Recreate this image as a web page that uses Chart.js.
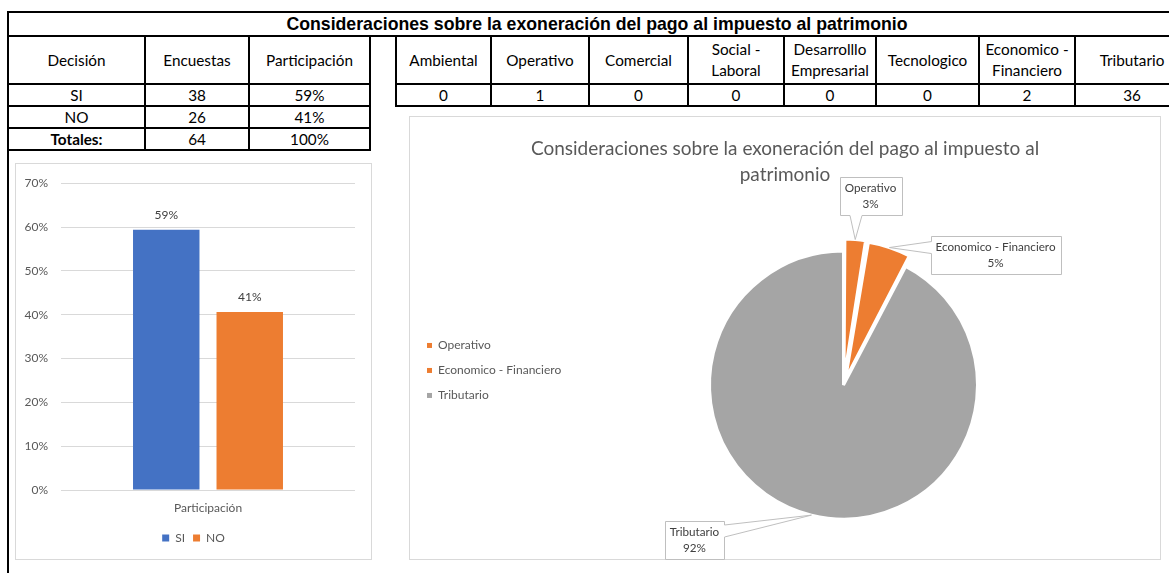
<!DOCTYPE html>
<html>
<head>
<meta charset="utf-8">
<script src="https://cdn.jsdelivr.net/npm/chart.js@4.4.1/dist/chart.umd.min.js"></script>
<style>
  html, body { margin: 0; padding: 0; background: #fff; }
  body { width: 1169px; height: 573px; overflow: hidden; position: relative; font-family: Lato, 'Noto Sans', sans-serif; }
  .abs { position: absolute; }
  .cell { position: absolute; box-sizing: border-box; border: 2px solid #000; display: flex; align-items: center;
          justify-content: center; text-align: center; font-size: 15.3px; line-height: 21px; white-space: pre-line; color: #000; }
  .panel { position: absolute; box-sizing: border-box; border: 1px solid #d9d9d9; }
</style>
</head>
<body>
<div class="abs" style="left:7px;top:11px;width:2px;height:562px;background:#000"></div>
<div id="mainTitle" class="cell" style="left:7px;top:11px;width:1180px;height:26px;font-family:'Liberation Sans',Arial,sans-serif;font-weight:bold;font-size:17.7px;"></div>
<div id="tables"></div>
<div class="panel" style="left:15px;top:163px;width:357px;height:397px"></div>
<canvas id="bar" class="abs" width="357" height="397" style="left:15px;top:163px;width:357px;height:397px"></canvas>
<div class="panel" style="left:409px;top:116px;width:752px;height:444px"></div>
<canvas id="pie" class="abs" width="752" height="450" style="left:409px;top:116px;width:752px;height:450px"></canvas>
<script>
// ---------------- DATA ----------------
const mainTitle = 'Consideraciones sobre la exoneración del pago al impuesto al patrimonio';
const decisionHeaders = ['Decisión', 'Encuestas', 'Participación'];
const decisiones = ['SI', 'NO'];
const encuestas = [38, 26];
const participacion = [59.4, 40.6];          // percent
const totalLabel = 'Totales:';
const factores = ['Ambiental', 'Operativo', 'Comercial', 'Social -\nLaboral', 'Desarrolllo\nEmpresarial',
                  'Tecnologico', 'Economico -\nFinanciero', 'Tributario'];
const respuestas = [0, 1, 0, 0, 0, 0, 2, 36];
const barCategories = ['Participación'];
const yTickValues = [0, 10, 20, 30, 40, 50, 60, 70];
const pieTitle = ['Consideraciones sobre la exoneración del pago al impuesto al', 'patrimonio'];

// ---------------- STYLE ----------------
const FONT = "Lato, 'Noto Sans', sans-serif";
const barColors = ['#4472C4', '#ED7D31'];
const pieColorFor = { 'Tributario': '#A5A5A5' };
const pieDefaultColor = '#ED7D31';

// ---------------- TABLES ----------------
document.getElementById('mainTitle').textContent = mainTitle;
const host = document.getElementById('tables');
function cell(x0, x1, y0, y1, text, bold) {
  const d = document.createElement('div');
  d.className = 'cell';
  d.style.left = (x0 - 1) + 'px';
  d.style.top = (y0 - 1) + 'px';
  d.style.width = (x1 - x0 + 2) + 'px';
  d.style.height = (y1 - y0 + 2) + 'px';
  if (bold) d.style.fontWeight = 'bold';
  d.textContent = text;
  host.appendChild(d);
}
const fmtPct = v => Math.round(v) + '%';
const lx = [8, 145, 249, 370];
const ly = [36, 84, 106, 128, 150];
decisionHeaders.forEach((h, c) => cell(lx[c], lx[c + 1], ly[0], ly[1], h));
decisiones.forEach((d, r) => {
  cell(lx[0], lx[1], ly[r + 1], ly[r + 2], d);
  cell(lx[1], lx[2], ly[r + 1], ly[r + 2], String(encuestas[r]));
  cell(lx[2], lx[3], ly[r + 1], ly[r + 2], fmtPct(participacion[r]));
});
const totEnc = encuestas.reduce((a, b) => a + b, 0);
const totPart = participacion.reduce((a, b) => a + b, 0);
cell(lx[0], lx[1], ly[3], ly[4], totalLabel, true);
cell(lx[1], lx[2], ly[3], ly[4], String(totEnc));
cell(lx[2], lx[3], ly[3], ly[4], fmtPct(totPart));
const rx = [396, 491, 589, 688, 784, 876, 979, 1075, 1189];
const ry = [36, 84, 106];
factores.forEach((f, c) => {
  cell(rx[c], rx[c + 1], ry[0], ry[1], f);
  cell(rx[c], rx[c + 1], ry[1], ry[2], String(respuestas[c]));
});

// ---------------- SHARED PLUGINS ----------------
// empty layout box that reserves space on one side of the chart area
const spacerPlugin = {
  id: 'spacer',
  beforeInit(chart, args, opts) {
    if (!opts || !opts.size) return;
    const box = {
      position: opts.position || 'right', weight: 100, fullSize: false, options: {},
      left: 0, top: 0, right: 0, bottom: 0, width: 0, height: 0,
      isHorizontal() { return this.position === 'top' || this.position === 'bottom'; },
      update(maxWidth, maxHeight) {
        if (this.isHorizontal()) { this.width = maxWidth; this.height = opts.size; }
        else { this.width = opts.size; this.height = maxHeight; }
      },
      draw() {}
    };
    Chart.layouts.addBox(chart, box);
  }
};

// ---------------- BAR CHART ----------------
const barLabelPlugin = {
  id: 'barLabels',
  afterDatasetsDraw(chart) {
    const ctx = chart.ctx;
    ctx.save();
    ctx.font = '12px ' + FONT;
    ctx.fillStyle = '#404040';
    ctx.textAlign = 'center';
    ctx.textBaseline = 'middle';
    chart.data.datasets.forEach((ds, di) => {
      chart.getDatasetMeta(di).data.forEach((bar, j) => {
        ctx.fillText(fmtPct(ds.data[j]), bar.x, bar.y - 15);
      });
    });
    ctx.restore();
  }
};

new Chart(document.getElementById('bar'), {
  type: 'bar',
  data: {
    labels: barCategories,
    datasets: decisiones.map((d, i) => ({
      label: d,
      data: [participacion[i]],
      backgroundColor: barColors[i],
      categoryPercentage: 0.568,
      barPercentage: 0.796
    }))
  },
  options: {
    responsive: false, animation: false, devicePixelRatio: 1,
    layout: { padding: { left: 0, right: 0, top: 17, bottom: 6 } },
    scales: {
      x: {
        grid: { display: false, drawTicks: false },
        border: { display: false },
        ticks: { padding: 11, color: '#595959', font: { family: FONT, size: 12 } },
        afterFit: s => { s.height = 34; }
      },
      y: {
        min: yTickValues[0], max: yTickValues[yTickValues.length - 1],
        ticks: { stepSize: yTickValues[1] - yTickValues[0], padding: 13, color: '#595959',
                 font: { family: FONT, size: 12 }, callback: v => v + '%' },
        grid: { color: '#d9d9d9', drawTicks: false },
        border: { display: false },
        afterFit: s => { s.width = 46; }
      }
    },
    plugins: {
      legend: { position: 'bottom',
        labels: { boxWidth: 7, boxHeight: 7, padding: 8, color: '#595959', font: { family: FONT, size: 12 } } },
      tooltip: { enabled: false },
      spacer: { position: 'right', size: 17 }
    }
  },
  plugins: [spacerPlugin, barLabelPlugin]
});

// ---------------- PIE CHART ----------------
const pieLabels = factores.filter((_, i) => respuestas[i] > 0).map(s => s.replace('\n', ' '));
const pieValues = respuestas.filter(v => v > 0);
const pieColors = pieLabels.map(l => pieColorFor[l] || pieDefaultColor);
const pieOffsets = pieLabels.map(l => pieColorFor[l] ? 0 : 26);

const calloutPlugin = {
  id: 'callouts',
  afterDatasetsDraw(chart, args, opts) {
    const ctx = chart.ctx;
    const meta = chart.getDatasetMeta(0);
    const ds = chart.data.datasets[0];
    const total = ds.data.reduce((a, b) => a + b, 0);
    ctx.save();
    ctx.font = opts.fontSize + 'px ' + FONT;
    meta.data.forEach((arc, i) => {
      const p = arc.getProps(['x', 'y', 'startAngle', 'endAngle', 'outerRadius', 'circumference'], true);
      const mid = (p.startAngle + p.endAngle) / 2;
      const off = (arc.options.offset || 0) / 4;
      const disp = off * (2 - Math.sin(Math.min(Math.PI, p.circumference)));
      const r = p.outerRadius + disp;
      const ax = p.x + Math.cos(mid) * r, ay = p.y + Math.sin(mid) * r;
      const pos = opts.positions[i];
      const cx = p.x + pos[0], cy = p.y + pos[1];
      const lines = [chart.data.labels[i], Math.round(ds.data[i] / total * 100) + '%'];
      const w = Math.round(Math.max(...lines.map(t => ctx.measureText(t).width)) + 2 * opts.padX);
      const h = lines.length * opts.lineH + 2 * opts.padY;
      const L = Math.round(cx - w / 2) + 0.5, T = Math.round(cy - h / 2) + 0.5;
      const R = L + w, B = T + h;
      const dx = ax - cx, dy = ay - cy, half = 6;
      ctx.beginPath();
      ctx.moveTo(L, T);
      if (Math.abs(dx) * h > Math.abs(dy) * w) {
        const e = Math.min(Math.max(ay, T + h * 0.25), B - h * 0.25);
        ctx.lineTo(R, T);
        if (dx > 0) { ctx.lineTo(R, e - half); ctx.lineTo(ax, ay); ctx.lineTo(R, e + half); }
        ctx.lineTo(R, B); ctx.lineTo(L, B);
        if (dx < 0) { ctx.lineTo(L, e + half); ctx.lineTo(ax, ay); ctx.lineTo(L, e - half); }
      } else {
        const e = Math.min(Math.max(ax, L + w * 0.25), R - w * 0.25);
        if (dy < 0) { ctx.lineTo(e - half, T); ctx.lineTo(ax, ay); ctx.lineTo(e + half, T); }
        ctx.lineTo(R, T); ctx.lineTo(R, B);
        if (dy > 0) { ctx.lineTo(e + half, B); ctx.lineTo(ax, ay); ctx.lineTo(e - half, B); }
        ctx.lineTo(L, B);
      }
      ctx.closePath();
      ctx.fillStyle = '#ffffff';
      ctx.fill();
      ctx.strokeStyle = '#bfbfbf';
      ctx.lineWidth = 1;
      ctx.stroke();
      ctx.fillStyle = '#404040';
      ctx.textAlign = 'center';
      ctx.textBaseline = 'middle';
      lines.forEach((t, k) => ctx.fillText(t, cx, T + opts.padY + opts.lineH * (k + 0.5)));
    });
    ctx.restore();
  }
};

new Chart(document.getElementById('pie'), {
  type: 'pie',
  data: {
    labels: pieLabels,
    datasets: [{
      data: pieValues,
      backgroundColor: pieColors,
      borderColor: '#ffffff',
      borderWidth: 3,
      offset: pieOffsets,
      radius: 134
    }]
  },
  options: {
    responsive: false, animation: false, devicePixelRatio: 1,
    radius: 134,
    layout: { padding: { left: 5, right: 5, top: 0, bottom: 7 } },
    plugins: {
      title: { display: true, text: pieTitle, color: '#595959',
               font: { family: FONT, size: 19, weight: 'normal', lineHeight: 1.37 },
               padding: { top: 20, bottom: 23 } },
      legend: { position: 'left', align: 'start', fullSize: false, maxWidth: 150,
                title: { display: true, text: '', padding: { top: 101, bottom: 0 }, font: { size: 12 } },
                labels: { boxWidth: 5, boxHeight: 5, padding: 13, color: '#595959', font: { family: FONT, size: 12 },
                  generateLabels: chart => chart.data.labels.map((text, i) => ({
                    text, index: i, hidden: false, lineWidth: 0,
                    fillStyle: chart.data.datasets[0].backgroundColor[i],
                    strokeStyle: 'rgba(0,0,0,0)', fontColor: '#595959'
                  })) } },
      tooltip: { enabled: false },
      spacer: { position: 'right', size: 33 },
      callouts: { positions: [[27, -189], [152, -130], [-149, 155]], fontSize: 11.7, padX: 5, padY: 3, lineH: 16 }
    }
  },
  plugins: [spacerPlugin, calloutPlugin]
});
</script>
</body>
</html>
